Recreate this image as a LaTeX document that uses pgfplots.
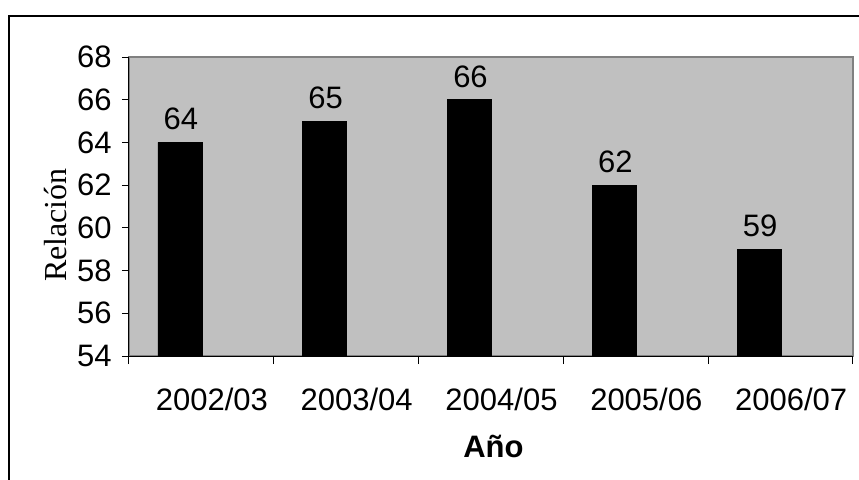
\documentclass[border=0pt]{standalone}
\usepackage{pgfplots}
\pgfplotsset{compat=1.18}
\usepackage{fontspec}
\setmainfont{Liberation Sans}
\newfontfamily\timesf{Liberation Serif}
\definecolor{plotbg}{HTML}{C0C0C0}
\definecolor{plotborder}{HTML}{808080}
\begin{document}
\begin{tikzpicture}
\useasboundingbox (0,0) rectangle (429.5pt,239.5pt);
\draw[line width=1pt] (4.25pt,-2pt) -- (4.25pt,231.75pt) -- (432pt,231.75pt);
\begin{axis}[
  at={(64.5pt,61.5pt)}, anchor=south west,
  scale only axis, width=362pt, height=149.5pt,
  xmin=-0.5, xmax=4.5, ymin=54, ymax=68,
  axis lines=left,
  axis line style={-, line width=0.5pt, black},
  axis background/.style={fill=plotbg, draw=plotborder, line width=1pt},
  ytick={54,56,...,68},
  xtick={0,1,2,3,4},
  xticklabels={2002/03,2003/04,2004/05,2005/06,2006/07},
  minor xtick={-0.5,0.5,...,4.5},
  tick align=outside,
  major tick length=3.5pt, minor tick length=4pt,
  major x tick style={draw=none},
  tick style={black, line width=0.5pt},
  /pgf/number format/assume math mode=true,
  ticklabel style={font=\fontsize{15.5}{18}\selectfont, inner sep=0pt},
  yticklabel style={xshift=-5pt},
  xticklabel style={anchor=north, yshift=-12.5pt, xshift=5.25pt},
  xlabel={Año},
  ylabel={Relación},
  every axis x label/.style={at={(axis description cs:0.5,0)}, anchor=base, yshift=-50.5pt, xshift=1.25pt, font=\fontsize{15.5}{18}\selectfont\bfseries},
  every axis y label/.style={at={(axis description cs:-0.1008,0.438)}, anchor=center, rotate=90, font=\timesf\fontsize{16}{19}\selectfont},
  nodes near coords,
  nodes near coords style={font=\fontsize{15.5}{18}\selectfont, inner sep=0pt, anchor=south, yshift=6pt, xshift=-10.25pt},
]
\addplot[ybar, fill=black, draw=black, bar width=0.304, bar shift=-0.148]
  coordinates {(0,64) (1,65) (2,66) (3,62) (4,59)};
\end{axis}
\end{tikzpicture}
\end{document}
